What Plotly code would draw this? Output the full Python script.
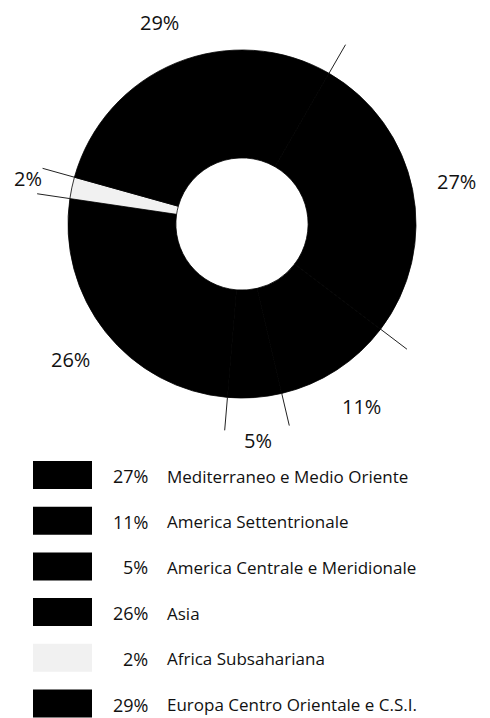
import math
import plotly.graph_objects as go

# ---- data ----
regions = ["Mediterraneo e Medio Oriente", "America Settentrionale",
           "America Centrale e Meridionale", "Asia", "Africa Subsahariana",
           "Europa Centro Orientale e C.S.I."]
shares = [27, 11, 5, 26, 2, 29]
pct_labels = ["27%", "11%", "5%", "26%", "2%", "29%"]
slice_colors = ["#000000", "#000000", "#000000", "#000000", "#f1f1f1", "#000000"]

# ---- layout constants (pixels, in window coordinates) ----
WIN_W, WIN_H = 490, 718
OFF = 8  # default body margin of the page
W, H = WIN_W - OFF, WIN_H - OFF
CX, CY, R = 242, 224, 174
START = 30.0  # degrees clockwise from 12 o'clock
FONT = "Open Sans"


def px(x):
    return (x - OFF) / W


def py(y):
    return 1 - (y - OFF) / H


fig = go.Figure()
fig.add_trace(go.Pie(
    labels=regions, values=shares, sort=False, direction="clockwise",
    rotation=START, hole=0.38, textinfo="none", hoverinfo="label+percent",
    marker=dict(colors=slice_colors, line=dict(color="#000000", width=0.8)),
    domain=dict(x=[px(CX - R), px(CX + R)], y=[py(CY + R), py(CY - R)]),
    showlegend=False,
))

total = sum(shares)
shapes = []
annotations = []
cum = 0.0
for i, v in enumerate(shares):
    a0 = START + 360.0 * cum / total
    cum += v
    a1 = START + 360.0 * cum / total
    t = math.radians(a0)
    x0, y0 = CX + R * math.sin(t), CY - R * math.cos(t)
    x1, y1 = CX + 1.19 * R * math.sin(t), CY - 1.19 * R * math.cos(t)
    shapes.append(dict(type="line", xref="paper", yref="paper",
                       x0=px(x0), y0=py(y0), x1=px(x1), y1=py(y1),
                       line=dict(color="#222222", width=1)))
    mid = math.radians((a0 + a1) / 2)
    lx, ly = CX + 1.26 * R * math.sin(mid), CY - 1.25 * R * math.cos(mid)
    annotations.append(dict(x=px(lx), y=py(ly), xref="paper", yref="paper",
                            text=pct_labels[i], showarrow=False,
                            xanchor="center", yanchor="middle", borderpad=0,
                            font=dict(family=FONT, size=20, color="#111111")))

# ---- custom legend ----
ROW0, STEP = 475, 45.7
for i, name in enumerate(regions):
    yc = ROW0 + i * STEP
    shapes.append(dict(type="rect", xref="paper", yref="paper",
                       x0=px(33), x1=px(92), y0=py(yc + 14), y1=py(yc - 14),
                       fillcolor=slice_colors[i], line=dict(width=0)))
    annotations.append(dict(x=px(149), y=py(yc + 1), xref="paper", yref="paper",
                            text=pct_labels[i], showarrow=False,
                            xanchor="right", yanchor="middle", borderpad=0,
                            font=dict(family=FONT, size=18, color="#111111")))
    annotations.append(dict(x=px(166), y=py(yc + 1), xref="paper", yref="paper",
                            text=name, showarrow=False,
                            xanchor="left", yanchor="middle", borderpad=0,
                            font=dict(family=FONT, size=17, color="#111111")))

fig.update_layout(width=W, height=H, margin=dict(l=0, r=0, t=0, b=0),
                  paper_bgcolor="white", plot_bgcolor="white",
                  shapes=shapes, annotations=annotations)
fig.write_html("out.html")
